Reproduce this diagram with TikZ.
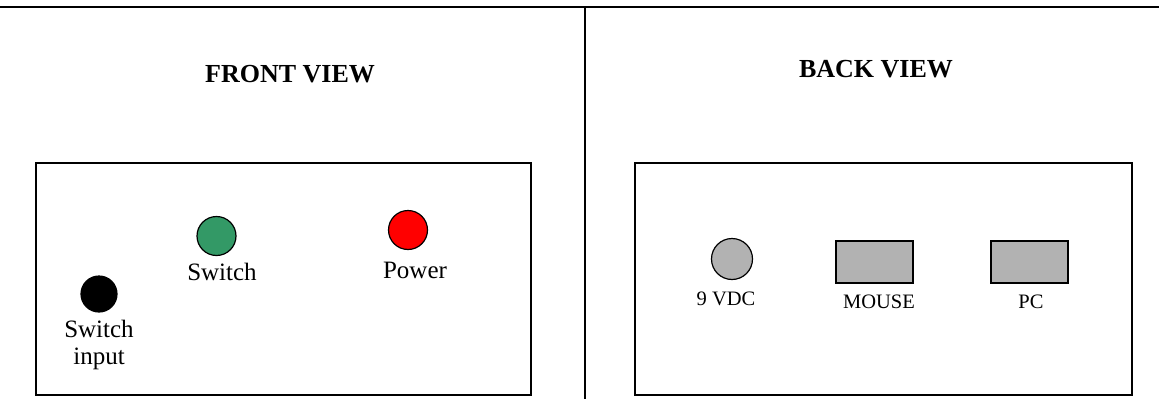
\documentclass[tikz,border=0pt]{standalone}
\usepackage{fontspec}
\setmainfont{Liberation Serif}
\definecolor{ledgreen}{RGB}{51,153,102}
\definecolor{portgray}{RGB}{178,178,178}
\begin{document}
\begin{tikzpicture}[x=1pt,y=-1pt,
  panel/.style={draw, line width=1.4pt, inner sep=0pt},
  led/.style={circle, draw, line width=1.2pt, inner sep=0pt},
  port/.style={draw, line width=1.2pt, fill=portgray, minimum width=77pt, minimum height=42pt, inner sep=0pt},
  viewtitle/.style={font=\fontsize{26}{30}\selectfont\bfseries, anchor=base, inner sep=0pt},
  flabel/.style={font=\fontsize{25}{29}\selectfont, anchor=base, inner sep=0pt},
  blabel/.style={font=\fontsize{20.5}{24}\selectfont, anchor=base, inner sep=0pt}]
\useasboundingbox (0,0) rectangle (1159,399);
% top rule and divider
\coordinate (tl) at (0,7);
\coordinate (tr) at (1159,7);
\draw[line width=2.4pt] (tl) -- (tr);
\coordinate (dt) at (585,6);
\coordinate (db) at (585,399);
\draw[line width=2pt] (dt) -- (db);
% panels
\node[panel, minimum width=495pt, minimum height=232pt] (front) at (283.5,279) {};
\node[panel, minimum width=497pt, minimum height=232pt] (back) at (883.5,279) {};
% titles
\node[viewtitle] (ftitle) at (290,82) {FRONT VIEW};
\node[viewtitle] (btitle) at (876,77) {BACK VIEW};
% front items
\node[led, fill=ledgreen, minimum size=39pt] (sw) at (216.5,236) {};
\node[led, fill=red, minimum size=39pt] (pw) at (408,230) {};
\node[led, fill=black, minimum size=36pt] (swin) at (99,294) {};
\node[flabel] (swl) at (222,280) {Switch};
\node[flabel] (pwl) at (415,278) {Power};
\node[flabel] (swinl1) at (99,337) {Switch};
\node[flabel] (swinl2) at (99,364) {input};
% back items
\node[led, fill=portgray, minimum size=41pt] (dc) at (732,259) {};
\node[port] (mouse) at (874.5,262) {};
\node[port] (pc) at (1029.5,262) {};
\node[blabel] (dcl) at (726,305) {9 VDC};
\node[blabel] (mousel) at (879,308) {MOUSE};
\node[blabel] (pcl) at (1031,308) {PC};
\end{tikzpicture}
\end{document}
